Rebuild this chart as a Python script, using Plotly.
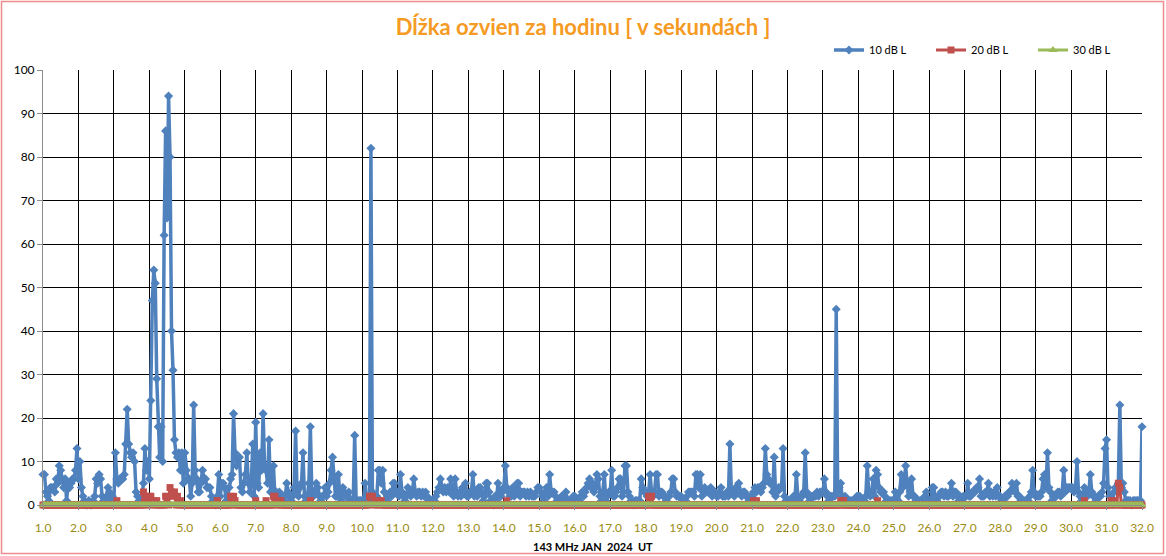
import plotly.graph_objects as go

# echo duration per hour (s), 10 dB level, one list per day of January 2024 (hours 0..23)
d01 = [7, 7, 3, 2, 1, 4, 4, 4, 3, 6, 5, 9, 8, 6, 4, 6, 1, 5, 4, 5, 6, 6, 8, 13]
d02 = [6, 10, 4, 2, 1, 0, 0, 1, 0, 0, 1, 2, 6, 5, 7, 6, 2, 1, 1, 2, 4, 3, 1, 2]
d03 = [1, 12, 6, 5, 6, 6, 6, 7, 14, 22, 14, 12, 11, 12, 10, 3, 2, 1, 1, 2, 5, 13, 8, 10]
d04 = [6, 24, 47, 54, 51, 29, 18, 11, 18, 10, 62, 86, 66, 94, 80, 40, 31, 15, 12, 11, 12, 8, 12, 5]
d05 = [12, 8, 6, 6, 2, 5, 23, 8, 6, 3, 3, 5, 8, 6, 6, 4, 4, 4, 2, 1, 1, 0, 2, 7]
d06 = [2, 5, 5, 4, 1, 2, 4, 6, 7, 21, 12, 9, 10, 11, 4, 3, 5, 7, 12, 5, 3, 5, 14, 2]
d07 = [19, 5, 4, 12, 8, 21, 9, 8, 5, 15, 3, 3, 9, 2, 3, 2, 3, 2, 1, 2, 2, 5, 3, 1]
d08 = [1, 2, 4, 17, 3, 2, 4, 5, 12, 2, 1, 2, 5, 18, 3, 2, 3, 5, 4, 2, 1, 2, 2, 4]
d09 = [2, 3, 5, 8, 11, 6, 2, 2, 7, 2, 1, 4, 3, 2, 2, 3, 1, 1, 1, 16, 1, 1, 1, 1]
d10 = [1, 1, 5, 1, 1, 1, 82, 3, 2, 1, 2, 8, 8, 5, 8, 3, 1, 1, 2, 3, 2, 5, 5, 3]
d11 = [3, 2, 7, 3, 2, 1, 2, 4, 3, 2, 3, 6, 3, 2, 3, 3, 2, 3, 2, 3, 2, 1, 1, 1]
d12 = [1, 1, 2, 3, 4, 6, 4, 3, 4, 3, 4, 3, 6, 3, 2, 6, 3, 2, 3, 2, 4, 3, 5, 2]
d13 = [2, 3, 3, 7, 2, 3, 2, 4, 4, 3, 1, 2, 5, 5, 3, 1, 1, 0, 2, 1, 5, 3, 2, 3]
d14 = [4, 9, 4, 3, 2, 2, 4, 2, 3, 5, 5, 2, 3, 3, 3, 2, 3, 2, 3, 2, 2, 2, 3, 4]
d15 = [4, 3, 2, 1, 3, 4, 2, 7, 3, 3, 3, 2, 1, 1, 1, 2, 1, 2, 3, 1, 1, 1, 1, 2]
d16 = [2, 1, 1, 1, 2, 3, 2, 3, 4, 5, 6, 4, 5, 3, 4, 7, 6, 2, 1, 3, 7, 1, 2, 3]
d17 = [3, 8, 2, 2, 3, 4, 6, 6, 2, 3, 9, 9, 3, 2, 1, 1, 0, 1, 1, 1, 1, 6, 4, 3]
d18 = [3, 2, 3, 7, 3, 2, 3, 7, 7, 2, 3, 3, 2, 2, 1, 2, 2, 3, 6, 6, 3, 2, 2, 2]
d19 = [2, 1, 1, 1, 2, 3, 3, 3, 3, 2, 7, 7, 4, 7, 2, 3, 4, 3, 3, 3, 4, 2, 3, 3]
d20 = [2, 2, 3, 4, 2, 2, 2, 3, 2, 14, 3, 3, 2, 4, 3, 5, 3, 2, 3, 3, 2, 2, 1, 2]
d21 = [2, 3, 4, 3, 4, 4, 3, 4, 5, 13, 7, 6, 5, 5, 3, 11, 2, 3, 4, 4, 4, 13, 2, 1]
d22 = [1, 1, 1, 1, 2, 1, 7, 2, 1, 2, 2, 3, 12, 3, 2, 1, 2, 2, 2, 2, 3, 2, 3, 3]
d23 = [3, 6, 3, 2, 1, 2, 2, 2, 2, 45, 3, 4, 5, 2, 1, 2, 1, 1, 1, 1, 1, 1, 1, 2]
d24 = [2, 2, 1, 1, 1, 2, 9, 3, 2, 3, 6, 2, 8, 7, 4, 3, 3, 3, 2, 1, 1, 1, 1, 1]
d25 = [1, 3, 1, 1, 3, 7, 4, 5, 9, 5, 2, 3, 6, 2, 2, 1, 1, 1, 1, 1, 1, 2, 3, 1]
d26 = [1, 1, 4, 4, 2, 1, 2, 2, 3, 3, 2, 3, 2, 2, 3, 5, 2, 3, 3, 2, 1, 2, 1, 2]
d27 = [2, 2, 5, 2, 2, 3, 3, 3, 4, 4, 6, 2, 2, 2, 3, 3, 5, 2, 3, 2, 3, 2, 4, 2]
d28 = [2, 1, 1, 2, 2, 2, 3, 3, 5, 4, 3, 5, 2, 2, 1, 1, 1, 1, 1, 1, 2, 3, 8, 3]
d29 = [2, 2, 2, 2, 3, 6, 7, 4, 12, 4, 3, 1, 2, 2, 2, 3, 3, 2, 3, 8, 3, 4, 4, 4]
d30 = [4, 4, 3, 4, 10, 3, 2, 1, 2, 4, 3, 2, 3, 7, 3, 2, 2, 1, 2, 2, 2, 3, 5, 13]
d31 = [15, 4, 2, 2, 1, 3, 4, 3, 5, 23, 4, 5, 3, 1, 1, 1, 1, 0, 1, 1, 1, 1, 1, 1]
d32 = [18]

# 20 dB level: only the hours that are not zero -> (day, hour, seconds)
db20_hits = [
    (3, 2, 1), (3, 20, 3), (3, 22, 2), (4, 0, 2), (4, 1, 2), (4, 3, 1), (4, 5, 1),
    (4, 11, 2), (4, 12, 2), (4, 14, 4), (4, 15, 3), (4, 16, 2), (4, 17, 3), (4, 19, 2),
    (4, 21, 1), (5, 22, 1), (6, 7, 2), (6, 9, 2), (6, 10, 1), (7, 0, 1), (7, 7, 1),
    (7, 12, 2), (7, 13, 2), (7, 15, 1), (7, 17, 1), (8, 13, 1), (10, 5, 2), (10, 6, 2),
    (10, 7, 2), (10, 9, 1), (10, 11, 1), (10, 13, 1), (14, 2, 1), (18, 2, 2), (18, 4, 2),
    (21, 1, 1), (21, 3, 1), (23, 12, 1), (23, 14, 1), (24, 13, 1), (30, 9, 1),
    (31, 3, 1), (31, 5, 1), (31, 8, 5), (31, 9, 4),
]

days = [d01, d02, d03, d04, d05, d06, d07, d08, d09, d10, d11, d12, d13, d14, d15, d16,
        d17, d18, d19, d20, d21, d22, d23, d24, d25, d26, d27, d28, d29, d30, d31, d32]
db10 = [v for d in days for v in d]
n = len(db10)
x = [1 + i / 24 for i in range(n)]

db20 = [0] * n
for day, hour, val in db20_hits:
    db20[(day - 1) * 24 + hour] = val
db30 = [0] * n  # 30 dB level stayed at zero the whole month

W, H = 1166, 556
L, R, T, B = 43, 24, 70, 51
pw, ph = W - L - R, H - T - B


def py(px):
    # pixel row from the top of the page -> paper y
    return (H - B - px) / ph


fig = go.Figure()
fig.add_trace(go.Scatter(x=x, y=db10, name='10 dB L', mode='lines+markers', cliponaxis=False,
                         line=dict(color='#4F81BD', width=3.5),
                         marker=dict(symbol='diamond', size=7, color='#4F81BD')))
fig.add_trace(go.Scatter(x=x, y=db20, name='20 dB L', mode='lines+markers', cliponaxis=False,
                         line=dict(color='#C0504D', width=3),
                         marker=dict(symbol='square', size=7, color='#C0504D')))
fig.add_trace(go.Scatter(x=x, y=db30, name='30 dB L', mode='lines+markers', cliponaxis=False,
                         line=dict(color='#9BBB59', width=3),
                         marker=dict(symbol='triangle-up', size=8, color='#9BBB59')))

fig.update_layout(
    width=W, height=H,
    margin=dict(l=L, r=R, t=T, b=B, autoexpand=False),
    paper_bgcolor='white', plot_bgcolor='white',
    font=dict(family='Lato, Calibri, sans-serif', size=12, color='black'),
    title=dict(text='<b>Dĺžka ozvien za hodinu [ v sekundách ]</b>', x=0.5, xanchor='center',
               y=1 - 27 / H, yanchor='middle', xref='container', yref='container',
               font=dict(size=22, color='#F59A23')),
    legend=dict(orientation='h', xref='container', yref='container', x=829 / W, y=1 - 50 / H,
                xanchor='left', yanchor='middle', font=dict(size=11),
                entrywidth=57, entrywidthmode='pixels', bgcolor='rgba(0,0,0,0)'),
    annotations=[dict(text='<b>143 MHz JAN\u00a0\u00a02024\u00a0\u00a0UT</b>', xref='paper', yref='paper',
                      x=0.5, y=py(546), xanchor='center', yanchor='middle', showarrow=False,
                      font=dict(size=11, color='black'))],
)

# outer chart border
fig.add_shape(type='rect', xref='paper', yref='paper', layer='above',
              x0=(1.5 - L) / pw, x1=(W - 2.5 - L) / pw,
              y0=py(H - 2.5), y1=py(1.5),
              line=dict(color='#F08C8C', width=1.5))

fig.update_xaxes(range=[1, 32], tick0=1, dtick=1, tickformat='.1f',
                 showgrid=True, gridcolor='black', gridwidth=1, zeroline=False,
                 showline=True, linecolor='#8C8C8C', ticks='outside', tickcolor='#8C8C8C', ticklen=4,
                 ticklabelstandoff=8, tickfont=dict(size=12, color='#9B8B14'))
fig.update_yaxes(range=[0, 100], dtick=10,
                 showgrid=True, gridcolor='black', gridwidth=1, zeroline=False,
                 showline=True, linecolor='#8C8C8C', ticks='outside', tickcolor='#8C8C8C', ticklen=5,
                 tickfont=dict(size=12, color='black'))

# the page's default body margin would shift the chart; remove it
fig.write_html("out.html", config={'displayModeBar': False},
               post_script="document.body.style.margin='0';")
